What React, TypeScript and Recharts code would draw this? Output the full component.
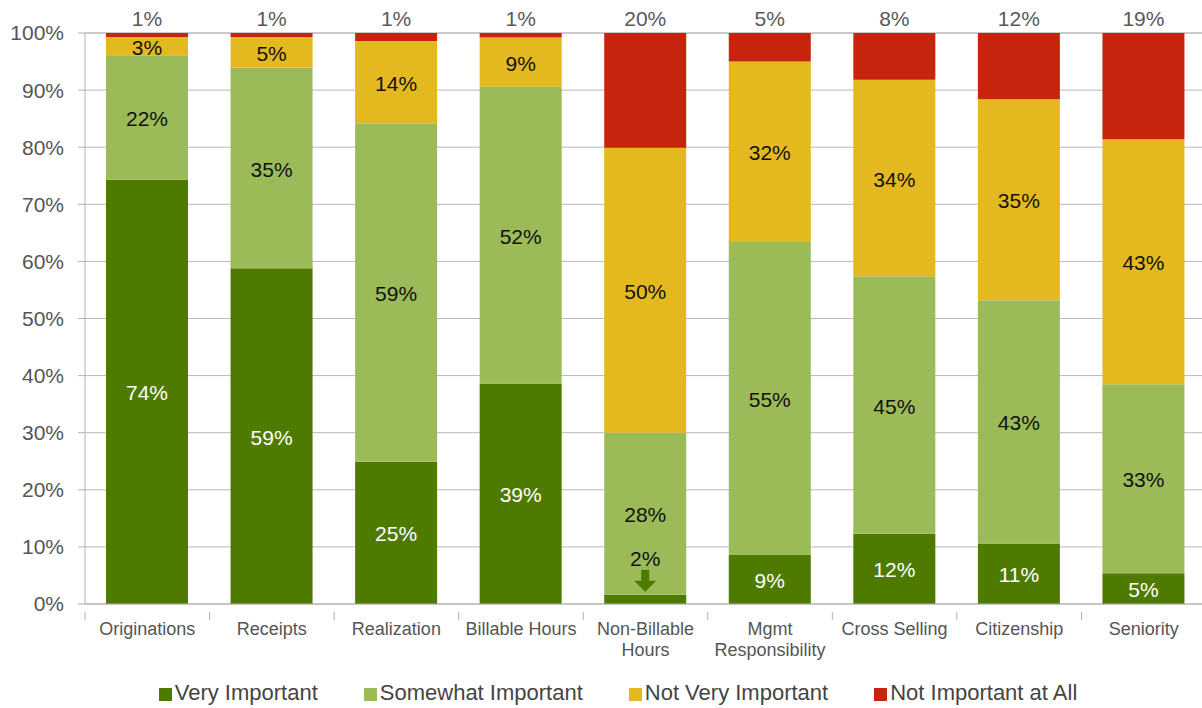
import React from 'react';
import {
  BarChart, Bar, XAxis, YAxis, CartesianGrid, Legend, LabelList,
} from 'recharts';

const categories = [
  'Originations', 'Receipts', 'Realization', 'Billable Hours', 'Non-Billable Hours',
  'Mgmt Responsibility', 'Cross Selling', 'Citizenship', 'Seniority',
];
const veryImportant = [74.3, 58.8, 24.9, 38.6, 1.6, 8.6, 12.3, 10.6, 5.4];
const somewhatImportant = [21.8, 35.1, 59.3, 52.0, 28.4, 54.8, 45.1, 42.6, 33.1];
const notVeryImportant = [3.2, 5.4, 14.4, 8.6, 49.9, 31.6, 34.4, 35.2, 42.9];
const notImportantAtAll = [0.7, 0.7, 1.4, 0.8, 20.1, 5.0, 8.2, 11.6, 18.6];
const yTicks = [0, 10, 20, 30, 40, 50, 60, 70, 80, 90, 100];

// two-line tick labels
const tickLines: Record<string, string[]> = {
  'Non-Billable Hours': ['Non-Billable', 'Hours'],
  'Mgmt Responsibility': ['Mgmt', 'Responsibility'],
};

const series = [
  { key: 'vi', name: 'Very Important', color: '#4f7a00', values: veryImportant },
  { key: 'si', name: 'Somewhat Important', color: '#9bbb59', values: somewhatImportant },
  { key: 'nvi', name: 'Not Very Important', color: '#e4b920', values: notVeryImportant },
  { key: 'nia', name: 'Not Important at All', color: '#c6240c', values: notImportantAtAll },
];

const data = categories.map((name, i) => {
  const row: Record<string, string | number> = { name };
  series.forEach((s) => { row[s.key] = s.values[i]; });
  return row;
});

const FONT = '"Liberation Sans", Arial, Helvetica, sans-serif';
const W = 1202;
const H = 708;
const Y_AXIS_W = 85;
const RIGHT = -4;
const bandW = (W - Y_AXIS_W - RIGHT) / categories.length;

const pct = (v: number) => `${Math.round(v)}%`;

const InsideLabel = (color: string, arrowColor?: string) => (props: any) => {
  const { x, y, width, height, value } = props;
  const cx = x + width / 2;
  if (arrowColor && value < 3) {
    // tiny segment: label above with arrow pointing down
    return (
      <g>
        <text x={cx} y={y - 36} textAnchor="middle" dominantBaseline="central"
          fontSize={21} fontFamily={FONT} fill="#111">{pct(value)}</text>
        <rect x={cx - 4} y={y - 25} width={8} height={11} fill={arrowColor} />
        <path d={`M${cx - 11},${y - 14} L${cx + 11},${y - 14} L${cx},${y - 3} Z`} fill={arrowColor} />
      </g>
    );
  }
  return (
    <text x={cx} y={y + height / 2 + 1} textAnchor="middle" dominantBaseline="central"
      fontSize={21} fontFamily={FONT} fill={color}>{pct(value)}</text>
  );
};

const TopLabel = (props: any) => {
  const { x, y, width, value } = props;
  return (
    <text x={x + width / 2} y={y - 7} textAnchor="middle"
      fontSize={21} fontFamily={FONT} fill="#595959">{pct(value)}</text>
  );
};

const XTick = (props: any) => {
  const { x, y, payload, index } = props;
  const lines = tickLines[payload.value] || [payload.value];
  const left = x - bandW / 2;
  return (
    <g>
      <line x1={left} x2={left} y1={y} y2={y + 8} stroke="#b0b0b0" />
      {index === categories.length - 1 && (
        <line x1={x + bandW / 2} x2={x + bandW / 2} y1={y} y2={y + 8} stroke="#b0b0b0" />
      )}
      <text x={x} y={y + 23} textAnchor="middle" fontSize={18} fontFamily={FONT} fill="#555">
        {lines.map((l, i) => (
          <tspan key={l} x={x} dy={i === 0 ? 0 : 21}>{l}</tspan>
        ))}
      </text>
    </g>
  );
};

const LegendContent = () => (
  <div style={{
    height: 60, display: 'flex', justifyContent: 'center', alignItems: 'flex-start',
    paddingTop: 32, paddingLeft: 30, boxSizing: 'border-box', fontFamily: FONT, fontSize: 22, color: '#444',
  }}>
    {series.map((s) => (
      <div key={s.key} style={{ display: 'flex', alignItems: 'center', margin: '0 23px' }}>
        <span style={{ width: 13, height: 13, background: s.color, marginRight: 3, marginTop: 2 }} />
        <span style={{ lineHeight: '26px' }}>{s.name}</span>
      </div>
    ))}
  </div>
);

const App: React.FC = () => {
  return (
    <div style={{ width: W, height: H, background: '#fff', overflow: 'hidden' }}>
      <style>{'body{margin:0}'}</style>
      <BarChart
        width={W}
        height={H}
        data={data}
        barSize={82}
        margin={{ top: 33, right: RIGHT, left: 0, bottom: 0 }}
      >
        <CartesianGrid vertical={false} stroke="#b8b8b8" />
        <XAxis
          dataKey="name"
          interval={0}
          height={44}
          tickLine={false}
          axisLine={{ stroke: '#b0b0b0' }}
          tick={<XTick />}
        />
        <YAxis
          width={Y_AXIS_W}
          domain={[0, 100]}
          ticks={yTicks}
          tickFormatter={(v: number) => `${v}%`}
          tickSize={7}
          tickMargin={14}
          stroke="#b0b0b0"
          tick={{ fill: '#555', fontSize: 21, fontFamily: FONT }}
        />
        <Legend verticalAlign="bottom" height={60} content={<LegendContent />} />
        <Bar dataKey="vi" name="Very Important" stackId="a" fill={series[0].color} isAnimationActive={false}>
          <LabelList dataKey="vi" content={InsideLabel('#fff', series[0].color)} />
        </Bar>
        <Bar dataKey="si" name="Somewhat Important" stackId="a" fill={series[1].color} isAnimationActive={false}>
          <LabelList dataKey="si" content={InsideLabel('#111')} />
        </Bar>
        <Bar dataKey="nvi" name="Not Very Important" stackId="a" fill={series[2].color} isAnimationActive={false}>
          <LabelList dataKey="nvi" content={InsideLabel('#111')} />
        </Bar>
        <Bar dataKey="nia" name="Not Important at All" stackId="a" fill={series[3].color} isAnimationActive={false}>
          <LabelList dataKey="nia" content={TopLabel} />
        </Bar>
      </BarChart>
    </div>
  );
};

export default App;
